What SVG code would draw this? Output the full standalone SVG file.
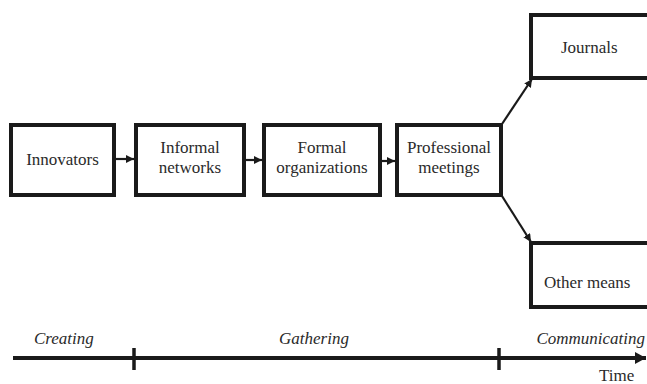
<svg xmlns="http://www.w3.org/2000/svg" width="647" height="384" viewBox="0 0 647 384">
  <defs>
    <marker id="head" viewBox="0 0 8 8" refX="8" refY="4" markerWidth="8" markerHeight="8" markerUnits="userSpaceOnUse" orient="auto">
      <path d="M0,0 L8,4 L0,8 Z" fill="#1a1a1a"/>
    </marker>
    <marker id="timehead" viewBox="0 0 11 12" refX="11" refY="6" markerWidth="11" markerHeight="12" markerUnits="userSpaceOnUse" orient="auto">
      <path d="M0,0 L11,6 L0,12 Z" fill="#1a1a1a"/>
    </marker>
  </defs>
  <style>
    .box { fill: #ffffff; stroke: #1a1a1a; stroke-width: 4; }
    text { font-family: "Liberation Serif", "Times New Roman", Times, Tinos, "Nimbus Roman", "Nimbus Roman No9 L", FreeSerif, "Noto Serif", "DejaVu Serif", Georgia, serif; font-size: 17px; fill: #2a2a2a; }
    .mid { text-anchor: middle; }
    .phase { font-style: italic; }
    .conn { stroke: #1a1a1a; stroke-width: 2.2; fill: none; }
    .axis { stroke: #1a1a1a; stroke-width: 4; fill: none; }
    .tick { stroke: #1a1a1a; stroke-width: 3.5; }
  </style>

  <rect width="647" height="384" fill="#ffffff"/>

  <g id="connectors">
    <line class="conn" x1="116" y1="159" x2="134" y2="159" marker-end="url(#head)"/>
    <line class="conn" x1="246" y1="160" x2="262" y2="160" marker-end="url(#head)"/>
    <line class="conn" x1="382" y1="161" x2="395" y2="161" marker-end="url(#head)"/>
    <line class="conn" x1="502" y1="124" x2="532" y2="79" marker-end="url(#head)"/>
    <line class="conn" x1="502" y1="196" x2="531" y2="242" marker-end="url(#head)"/>
  </g>

  <g id="innovators">
    <rect class="box" x="11" y="125" width="103" height="70"/>
    <text class="mid" x="62.5" y="165">Innovators</text>
  </g>

  <g id="informal-networks">
    <rect class="box" x="136" y="125" width="108" height="70"/>
    <text class="mid" x="190" y="153">Informal</text>
    <text class="mid" x="190" y="173">networks</text>
  </g>

  <g id="formal-organizations">
    <rect class="box" x="264" y="125" width="116" height="70"/>
    <text class="mid" x="322" y="153">Formal</text>
    <text class="mid" x="322" y="173">organizations</text>
  </g>

  <g id="professional-meetings">
    <rect class="box" x="397" y="125" width="104" height="70"/>
    <text class="mid" x="449" y="153">Professional</text>
    <text class="mid" x="449" y="173">meetings</text>
  </g>

  <g id="journals">
    <rect class="box" x="531" y="15" width="140" height="63"/>
    <text x="561" y="53">Journals</text>
  </g>

  <g id="other-means">
    <rect class="box" x="531" y="243" width="140" height="64"/>
    <text x="544" y="288">Other means</text>
  </g>

  <g id="timeline">
    <line class="axis" x1="13" y1="358" x2="646" y2="358" marker-end="url(#timehead)"/>
    <line class="tick" x1="134" y1="348" x2="134" y2="370"/>
    <line class="tick" x1="499" y1="348" x2="499" y2="370"/>
    <text class="phase" x="34" y="344">Creating</text>
    <text class="phase mid" x="314" y="344">Gathering</text>
    <text class="phase" x="645" y="344" text-anchor="end">Communicating</text>
    <text x="599" y="381">Time</text>
  </g>
</svg>
